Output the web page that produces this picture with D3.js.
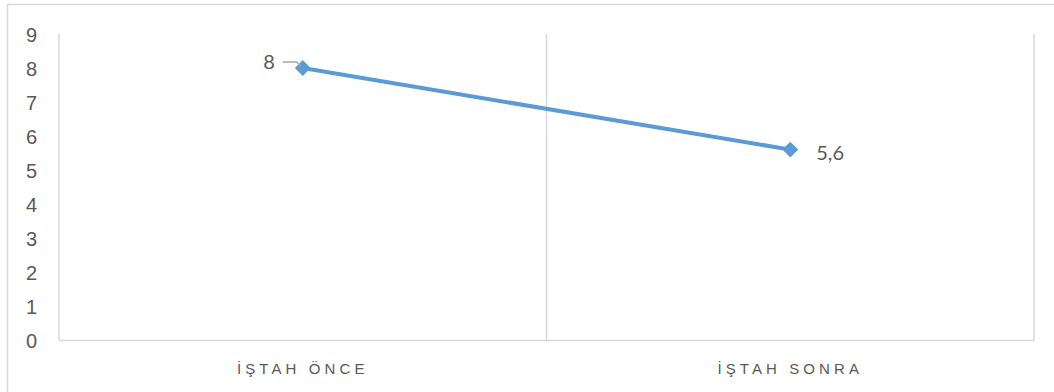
<!DOCTYPE html>
<html>
<head>
<meta charset="utf-8">
<script src="https://cdn.jsdelivr.net/npm/d3@7"></script>
<style>
body{margin:0;background:#fff;}
svg{display:block;font-family:Lato,"Open Sans",sans-serif;}
</style>
</head>
<body>
<svg id="chart" width="1054" height="392"></svg>
<script>
var categories = ["İŞTAH ÖNCE", "İŞTAH SONRA"];
var values = [8, 5.6];
var valueLabels = ["8", "5,6"];
var yTicks = [0,1,2,3,4,5,6,7,8,9];

var svg = d3.select("#chart");
var plotLeft = 59, plotRight = 1034, plotTop = 34, plotBottom = 340;

// outer chart frame (cut off at right/bottom)
svg.append("rect")
  .attr("x",7.5).attr("y",4.5).attr("width",1060).attr("height",400)
  .attr("fill","none").attr("stroke","#d9d9d9").attr("stroke-width",1.5);

var x = d3.scaleBand().domain(categories).range([plotLeft,plotRight]);
var y = d3.scaleLinear().domain([0,9]).range([plotBottom,plotTop]);

// vertical gridlines at category boundaries
var bounds = [plotLeft, plotLeft + x.bandwidth(), plotRight];
svg.selectAll(".vgrid").data(bounds).enter().append("line")
  .attr("x1",function(d){return d;}).attr("x2",function(d){return d;})
  .attr("y1",plotTop).attr("y2",plotBottom)
  .attr("stroke","#d9d9d9").attr("stroke-width",1.5);

// x axis
var xAxis = svg.append("g").attr("transform","translate(0,"+plotBottom+")")
  .call(d3.axisBottom(x).tickSize(0).tickPadding(0));
xAxis.select(".domain").attr("stroke","#d9d9d9").attr("stroke-width",1.5);
xAxis.selectAll("text")
  .attr("y",34).attr("dy","0")
  .attr("fill","#595959").style("font-size","15px").style("letter-spacing","4.1px");

// y axis labels
var yAxis = svg.append("g").attr("transform","translate(37,0)")
  .call(d3.axisLeft(y).tickValues(yTicks).tickSize(0).tickPadding(0));
yAxis.select(".domain").remove();
yAxis.selectAll("text")
  .attr("fill","#595959").style("font-size","20px").attr("dy","0.35em");

var pts = categories.map(function(c,i){ return [x(c)+x.bandwidth()/2, y(values[i])]; });

svg.append("path")
  .datum(pts)
  .attr("d", d3.line())
  .attr("fill","none").attr("stroke","#5b9bd5").attr("stroke-width",4);

svg.selectAll(".mark").data(pts).enter().append("path")
  .attr("d", d3.symbol().type(d3.symbolSquare).size(125))
  .attr("transform", function(d){ return "translate("+d[0]+","+d[1]+") rotate(45)"; })
  .attr("fill","#5b9bd5");

// data labels
var p0 = pts[0];
svg.append("path")
  .attr("d","M"+(p0[0]-20)+","+(p0[1]-6)+"H"+(p0[0]-6)+"L"+(p0[0]-2)+","+(p0[1]-2))
  .attr("fill","none").attr("stroke","#a6a6a6").attr("stroke-width",1.5);
svg.append("text")
  .attr("x",p0[0]-28).attr("y",p0[1]-6).attr("dy","0.35em")
  .attr("text-anchor","end").attr("fill","#595959").style("font-size","20px")
  .text(valueLabels[0]);
var p1 = pts[1];
svg.append("text")
  .attr("x",p1[0]+26).attr("y",p1[1]+3).attr("dy","0.35em")
  .attr("fill","#595959").style("font-size","20px")
  .text(valueLabels[1]);
</script>
</body>
</html>
